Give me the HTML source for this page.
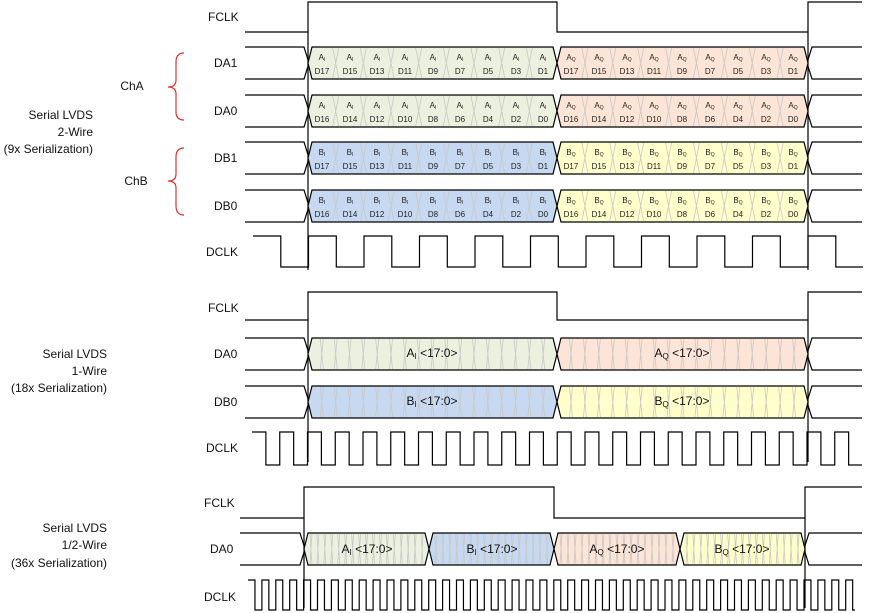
<!DOCTYPE html>
<html><head><meta charset="utf-8"><style>
body{margin:0;background:#fff}
svg{display:block}
text{font-family:"Liberation Sans",sans-serif}
.s{font-size:8px;fill:#222}
.l{font-size:12px;fill:#111}
</style></head><body>
<svg id="sv" width="872" height="613" xmlns="http://www.w3.org/2000/svg">
<g id="shapes"></g>
<g fill="none" stroke="#e03030" stroke-width="1.2">
<path d="M184,53 Q176,53 176,62 L176,80 Q176,87 168,87 Q176,87 176,94 L176,112 Q176,120 184,120"/>
<path d="M184,148 Q176,148 176,157 L176,174 Q176,181 168,181 Q176,181 176,188 L176,206 Q176,215 184,215"/>
</g>
<g class="l">
<text x="93" y="119" text-anchor="end">Serial LVDS</text>
<text x="93" y="136" text-anchor="end">2-Wire</text>
<text x="93" y="153" text-anchor="end">(9x Serialization)</text>
<text x="107" y="358" text-anchor="end">Serial LVDS</text>
<text x="107" y="375" text-anchor="end">1-Wire</text>
<text x="107" y="392" text-anchor="end">(18x Serialization)</text>
<text x="107" y="532" text-anchor="end">Serial LVDS</text>
<text x="107" y="549" text-anchor="end">1/2-Wire</text>
<text x="107" y="567" text-anchor="end">(36x Serialization)</text>
<text x="132" y="90" text-anchor="middle">ChA</text>
<text x="136" y="185" text-anchor="middle">ChB</text>
<text x="208" y="21">FCLK</text>
<text x="214" y="67">DA1</text>
<text x="214" y="115">DA0</text>
<text x="214" y="162">DB1</text>
<text x="214" y="210">DB0</text>
<text x="206" y="256">DCLK</text>
<text x="208" y="312">FCLK</text>
<text x="214" y="358">DA0</text>
<text x="214" y="406">DB0</text>
<text x="206" y="452">DCLK</text>
<text x="204" y="507">FCLK</text>
<text x="210" y="553">DA0</text>
<text x="204" y="601">DCLK</text>
<text x="432" y="357" text-anchor="middle">A<tspan font-size="8" dy="2">I</tspan><tspan dy="-2"> &lt;17:0&gt;</tspan></text>
<text x="682" y="357" text-anchor="middle">A<tspan font-size="8" dy="2">Q</tspan><tspan dy="-2"> &lt;17:0&gt;</tspan></text>
<text x="432" y="405" text-anchor="middle">B<tspan font-size="8" dy="2">I</tspan><tspan dy="-2"> &lt;17:0&gt;</tspan></text>
<text x="682" y="405" text-anchor="middle">B<tspan font-size="8" dy="2">Q</tspan><tspan dy="-2"> &lt;17:0&gt;</tspan></text>
<text x="367" y="553" text-anchor="middle">A<tspan font-size="8" dy="2">I</tspan><tspan dy="-2"> &lt;17:0&gt;</tspan></text>
<text x="492" y="553" text-anchor="middle">B<tspan font-size="8" dy="2">I</tspan><tspan dy="-2"> &lt;17:0&gt;</tspan></text>
<text x="617" y="553" text-anchor="middle">A<tspan font-size="8" dy="2">Q</tspan><tspan dy="-2"> &lt;17:0&gt;</tspan></text>
<text x="742" y="553" text-anchor="middle">B<tspan font-size="8" dy="2">Q</tspan><tspan dy="-2"> &lt;17:0&gt;</tspan></text>
</g>
<g class="s" text-anchor="middle">
<text x="322" y="60">A<tspan font-size="5" dy="1">I</tspan></text><text x="322" y="74">D17</text>
<text x="350" y="60">A<tspan font-size="5" dy="1">I</tspan></text><text x="350" y="74">D15</text>
<text x="377" y="60">A<tspan font-size="5" dy="1">I</tspan></text><text x="377" y="74">D13</text>
<text x="405" y="60">A<tspan font-size="5" dy="1">I</tspan></text><text x="405" y="74">D11</text>
<text x="433" y="60">A<tspan font-size="5" dy="1">I</tspan></text><text x="433" y="74">D9</text>
<text x="460" y="60">A<tspan font-size="5" dy="1">I</tspan></text><text x="460" y="74">D7</text>
<text x="488" y="60">A<tspan font-size="5" dy="1">I</tspan></text><text x="488" y="74">D5</text>
<text x="516" y="60">A<tspan font-size="5" dy="1">I</tspan></text><text x="516" y="74">D3</text>
<text x="543" y="60">A<tspan font-size="5" dy="1">I</tspan></text><text x="543" y="74">D1</text>
<text x="571" y="60">A<tspan font-size="5" dy="1">Q</tspan></text><text x="571" y="74">D17</text>
<text x="599" y="60">A<tspan font-size="5" dy="1">Q</tspan></text><text x="599" y="74">D15</text>
<text x="627" y="60">A<tspan font-size="5" dy="1">Q</tspan></text><text x="627" y="74">D13</text>
<text x="654" y="60">A<tspan font-size="5" dy="1">Q</tspan></text><text x="654" y="74">D11</text>
<text x="682" y="60">A<tspan font-size="5" dy="1">Q</tspan></text><text x="682" y="74">D9</text>
<text x="710" y="60">A<tspan font-size="5" dy="1">Q</tspan></text><text x="710" y="74">D7</text>
<text x="738" y="60">A<tspan font-size="5" dy="1">Q</tspan></text><text x="738" y="74">D5</text>
<text x="766" y="60">A<tspan font-size="5" dy="1">Q</tspan></text><text x="766" y="74">D3</text>
<text x="793" y="60">A<tspan font-size="5" dy="1">Q</tspan></text><text x="793" y="74">D1</text>
<text x="322" y="108">A<tspan font-size="5" dy="1">I</tspan></text><text x="322" y="122">D16</text>
<text x="350" y="108">A<tspan font-size="5" dy="1">I</tspan></text><text x="350" y="122">D14</text>
<text x="377" y="108">A<tspan font-size="5" dy="1">I</tspan></text><text x="377" y="122">D12</text>
<text x="405" y="108">A<tspan font-size="5" dy="1">I</tspan></text><text x="405" y="122">D10</text>
<text x="433" y="108">A<tspan font-size="5" dy="1">I</tspan></text><text x="433" y="122">D8</text>
<text x="460" y="108">A<tspan font-size="5" dy="1">I</tspan></text><text x="460" y="122">D6</text>
<text x="488" y="108">A<tspan font-size="5" dy="1">I</tspan></text><text x="488" y="122">D4</text>
<text x="516" y="108">A<tspan font-size="5" dy="1">I</tspan></text><text x="516" y="122">D2</text>
<text x="543" y="108">A<tspan font-size="5" dy="1">I</tspan></text><text x="543" y="122">D0</text>
<text x="571" y="108">A<tspan font-size="5" dy="1">Q</tspan></text><text x="571" y="122">D16</text>
<text x="599" y="108">A<tspan font-size="5" dy="1">Q</tspan></text><text x="599" y="122">D14</text>
<text x="627" y="108">A<tspan font-size="5" dy="1">Q</tspan></text><text x="627" y="122">D12</text>
<text x="654" y="108">A<tspan font-size="5" dy="1">Q</tspan></text><text x="654" y="122">D10</text>
<text x="682" y="108">A<tspan font-size="5" dy="1">Q</tspan></text><text x="682" y="122">D8</text>
<text x="710" y="108">A<tspan font-size="5" dy="1">Q</tspan></text><text x="710" y="122">D6</text>
<text x="738" y="108">A<tspan font-size="5" dy="1">Q</tspan></text><text x="738" y="122">D4</text>
<text x="766" y="108">A<tspan font-size="5" dy="1">Q</tspan></text><text x="766" y="122">D2</text>
<text x="793" y="108">A<tspan font-size="5" dy="1">Q</tspan></text><text x="793" y="122">D0</text>
<text x="322" y="155">B<tspan font-size="5" dy="1">I</tspan></text><text x="322" y="169">D17</text>
<text x="350" y="155">B<tspan font-size="5" dy="1">I</tspan></text><text x="350" y="169">D15</text>
<text x="377" y="155">B<tspan font-size="5" dy="1">I</tspan></text><text x="377" y="169">D13</text>
<text x="405" y="155">B<tspan font-size="5" dy="1">I</tspan></text><text x="405" y="169">D11</text>
<text x="433" y="155">B<tspan font-size="5" dy="1">I</tspan></text><text x="433" y="169">D9</text>
<text x="460" y="155">B<tspan font-size="5" dy="1">I</tspan></text><text x="460" y="169">D7</text>
<text x="488" y="155">B<tspan font-size="5" dy="1">I</tspan></text><text x="488" y="169">D5</text>
<text x="516" y="155">B<tspan font-size="5" dy="1">I</tspan></text><text x="516" y="169">D3</text>
<text x="543" y="155">B<tspan font-size="5" dy="1">I</tspan></text><text x="543" y="169">D1</text>
<text x="571" y="155">B<tspan font-size="5" dy="1">Q</tspan></text><text x="571" y="169">D17</text>
<text x="599" y="155">B<tspan font-size="5" dy="1">Q</tspan></text><text x="599" y="169">D15</text>
<text x="627" y="155">B<tspan font-size="5" dy="1">Q</tspan></text><text x="627" y="169">D13</text>
<text x="654" y="155">B<tspan font-size="5" dy="1">Q</tspan></text><text x="654" y="169">D11</text>
<text x="682" y="155">B<tspan font-size="5" dy="1">Q</tspan></text><text x="682" y="169">D9</text>
<text x="710" y="155">B<tspan font-size="5" dy="1">Q</tspan></text><text x="710" y="169">D7</text>
<text x="738" y="155">B<tspan font-size="5" dy="1">Q</tspan></text><text x="738" y="169">D5</text>
<text x="766" y="155">B<tspan font-size="5" dy="1">Q</tspan></text><text x="766" y="169">D3</text>
<text x="793" y="155">B<tspan font-size="5" dy="1">Q</tspan></text><text x="793" y="169">D1</text>
<text x="322" y="203">B<tspan font-size="5" dy="1">I</tspan></text><text x="322" y="217">D16</text>
<text x="350" y="203">B<tspan font-size="5" dy="1">I</tspan></text><text x="350" y="217">D14</text>
<text x="377" y="203">B<tspan font-size="5" dy="1">I</tspan></text><text x="377" y="217">D12</text>
<text x="405" y="203">B<tspan font-size="5" dy="1">I</tspan></text><text x="405" y="217">D10</text>
<text x="433" y="203">B<tspan font-size="5" dy="1">I</tspan></text><text x="433" y="217">D8</text>
<text x="460" y="203">B<tspan font-size="5" dy="1">I</tspan></text><text x="460" y="217">D6</text>
<text x="488" y="203">B<tspan font-size="5" dy="1">I</tspan></text><text x="488" y="217">D4</text>
<text x="516" y="203">B<tspan font-size="5" dy="1">I</tspan></text><text x="516" y="217">D2</text>
<text x="543" y="203">B<tspan font-size="5" dy="1">I</tspan></text><text x="543" y="217">D0</text>
<text x="571" y="203">B<tspan font-size="5" dy="1">Q</tspan></text><text x="571" y="217">D16</text>
<text x="599" y="203">B<tspan font-size="5" dy="1">Q</tspan></text><text x="599" y="217">D14</text>
<text x="627" y="203">B<tspan font-size="5" dy="1">Q</tspan></text><text x="627" y="217">D12</text>
<text x="654" y="203">B<tspan font-size="5" dy="1">Q</tspan></text><text x="654" y="217">D10</text>
<text x="682" y="203">B<tspan font-size="5" dy="1">Q</tspan></text><text x="682" y="217">D8</text>
<text x="710" y="203">B<tspan font-size="5" dy="1">Q</tspan></text><text x="710" y="217">D6</text>
<text x="738" y="203">B<tspan font-size="5" dy="1">Q</tspan></text><text x="738" y="217">D4</text>
<text x="766" y="203">B<tspan font-size="5" dy="1">Q</tspan></text><text x="766" y="217">D2</text>
<text x="793" y="203">B<tspan font-size="5" dy="1">Q</tspan></text><text x="793" y="217">D0</text>
</g>
</svg>
<script>
var g=document.getElementById('shapes'),h='';
function L(d,c,w){h+='<path d="'+d+'" fill="none" stroke="'+(c||'#000')+'" stroke-width="'+(w||1.2)+'"/>';}
function fclk(x0,x1,r1,f,r2,yh,yl,vb){
 L('M'+x0+','+yl+'H'+r1+'V'+yh+'H'+f+'V'+yl+'H'+r2+'V'+yh+'H'+x1);
 L('M'+r1+','+yl+'V'+vb);L('M'+r2+','+yl+'V'+vb);
}
function bus(x0,x1,yt,yb,segs,cols,n,xw){
 var ym=(yt+yb)/2,a0=segs[0],aN=segs[segs.length-1];
 L('M'+x0+','+yt+'H'+(a0-4)+'L'+(a0+1)+','+ym+'L'+(a0-4)+','+yb+'H'+x0);
 L('M'+x1+','+yt+'H'+(aN+4)+'L'+(aN-1)+','+ym+'L'+(aN+4)+','+yb+'H'+x1);
 for(var i=0;i<segs.length-1;i++){
  var a=segs[i],b=segs[i+1];
  h+='<polygon points="'+a+','+ym+' '+(a+4)+','+yt+' '+(b-4)+','+yt+' '+b+','+ym+' '+(b-4)+','+yb+' '+(a+4)+','+yb+'" fill="'+cols[i]+'" stroke="#000" stroke-width="1.2"/>';
  var st=(b-a)/n;
  for(var k=1;k<n;k++){var x=a+st*k;L('M'+(x-xw)+','+(yt+1)+'L'+(x+xw)+','+(yb-1)+'M'+(x+xw)+','+(yt+1)+'L'+(x-xw)+','+(yb-1),'#c8c8c8',0.8);}
 }
}
function clk(x0,x1,yh,yl,hw,p){
 var d='M'+x0+','+yh,x=x0;
 while(x<x1){var xe=Math.min(x+hw,x1);d+='H'+xe;if(xe>=x1)break;d+='V'+yl;var xn=Math.min(x+p,x1);d+='H'+xn;if(xn>=x1)break;d+='V'+yh;x=xn;}
 L(d);
}
var G='#ebf1de',P='#fce4d6',B='#c6d9f1',Y='#ffffcc';
fclk(245,862,308,557,808,2,32,270);
bus(245,862,47,79,[308,557,808],[G,P],9,3);
bus(245,862,95,127,[308,557,808],[G,P],9,3);
bus(245,862,142,174,[308,557,808],[B,Y],9,3);
bus(245,862,190,222,[308,557,808],[B,Y],9,3);
clk(253,863,236,267,27.8,55.5);
fclk(245,862,308,557,808,292,320,462);
bus(245,862,338,370,[308,557,808],[G,P],18,1.5);
bus(245,862,386,418,[308,557,808],[B,Y],18,1.5);
clk(252,862,432,465,13.9,27.75);
fclk(240,862,304,554,805,487,518,608);
bus(240,862,533,565,[304,429,554,680,805],[G,B,P,Y],18,1);
clk(248,855,580,610,6.95,13.9);
g.innerHTML=h;
</script>
</body></html>
